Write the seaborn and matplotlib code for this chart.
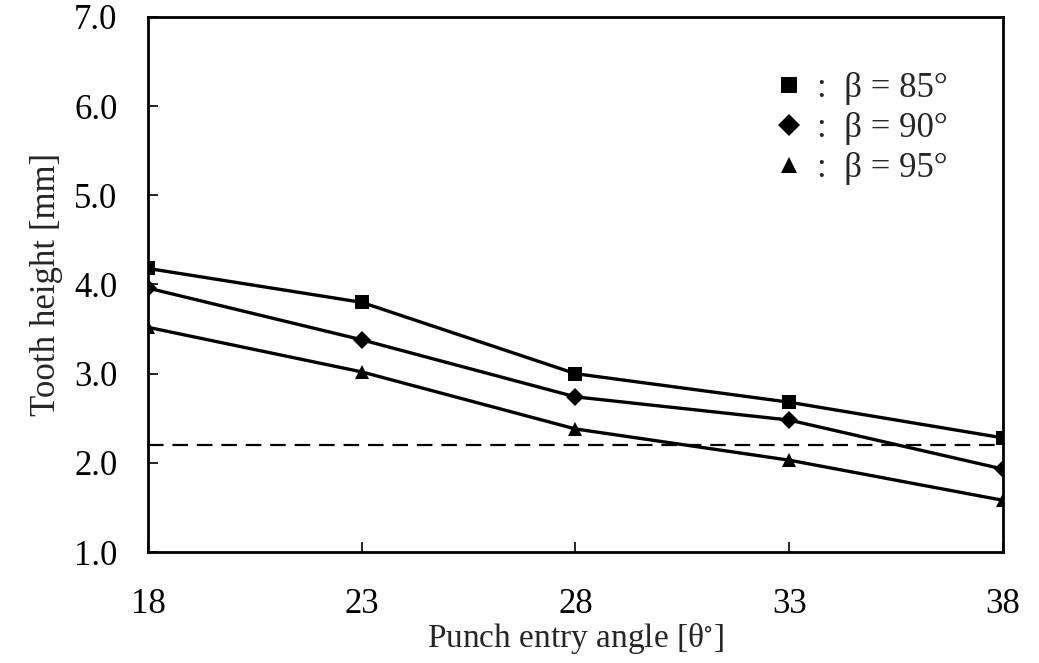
import numpy as np
import pandas as pd
import matplotlib
matplotlib.use('Agg')
import matplotlib.pyplot as plt
from matplotlib.lines import Line2D
import seaborn as sns

# ── Data ──────────────────────────────────────────────
angles      = [18, 23, 28, 33, 38]
beta_labels = ['85', '90', '95']
h_beta85    = [4.18, 3.80, 3.00, 2.68, 2.28]
h_beta90    = [3.96, 3.38, 2.74, 2.48, 1.93]
h_beta95    = [3.52, 3.02, 2.38, 2.03, 1.58]
limit_line  = 2.2
x_ticks     = [18, 23, 28, 33, 38]
y_ticks     = [1.0, 2.0, 3.0, 4.0, 5.0, 6.0, 7.0]

df = pd.DataFrame({
    'angle':  angles * 3,
    'height': h_beta85 + h_beta90 + h_beta95,
    'beta':   [b for b in beta_labels for _ in angles],
})

# ── Style ─────────────────────────────────────────────
sns.set_style('ticks')
plt.rcParams['font.family'] = ['Liberation Serif', 'DejaVu Serif']
plt.rcParams['mathtext.fontset'] = 'stix'

fig = plt.figure(figsize=(10.39, 6.63), dpi=100)
ax = fig.add_axes([0.1424, 0.1674, 0.8229, 0.807])

markers = {'85': 's', '90': 'D', '95': '^'}
msizes  = {'85': 10, '90': 9, '95': 10}
sns.lineplot(data=df, x='angle', y='height', hue='beta', style='beta',
             palette=['black'] * 3, markers=markers, dashes=False,
             linewidth=2.4, markersize=10, markeredgewidth=0,
             legend=False, ax=ax)
# diamonds a bit smaller
for line, b in zip(ax.get_lines(), beta_labels):
    line.set_markersize(msizes[b])

ax.axhline(limit_line, color='black', linestyle=(0, (7, 4)), linewidth=1.6)

ax.set_xlim(18, 38)
ax.set_ylim(1.0, 7.0)
ax.set_xticks(x_ticks)
ax.set_yticks(y_ticks)
ax.set_yticklabels([f'{v:.1f}' for v in y_ticks])
ax.tick_params(direction='in', length=7, width=1.2, labelsize=25, colors='black')
ax.tick_params(axis='y', pad=22)
ax.tick_params(axis='x', pad=26)
for s in ax.spines.values():
    s.set_linewidth(2.0)
    s.set_color('black')

ax.set_xlabel('Punch entry angle [θ$^{\\circ}$]', fontsize=24, labelpad=0)
ax.set_ylabel('Tooth height [mm]', fontsize=25, labelpad=8)

handles = [Line2D([], [], linestyle='none', marker=markers[b], color='black',
                  markersize=msizes[b] + 2, markeredgewidth=0) for b in beta_labels]
labels = [f':  β = {b}°' for b in beta_labels]
ax.legend(handles, labels, loc='upper right', bbox_to_anchor=(0.972, 0.955),
          frameon=False, fontsize=25, handletextpad=0.3, labelspacing=0.2,
          handlelength=1.0)

fig.savefig('out.png', dpi=100)
